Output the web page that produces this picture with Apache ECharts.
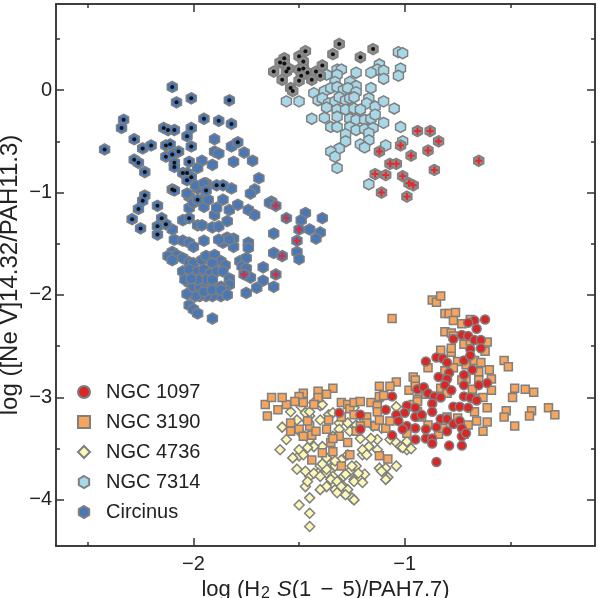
<!DOCTYPE html>
<html><head><meta charset="utf-8">
<script src="https://cdn.jsdelivr.net/npm/echarts@6/dist/echarts.min.js"></script>
<style>html,body{margin:0;padding:0;background:#fff}#c{width:598px;height:598px}</style>
</head><body><div id="c"></div>
<script>
const seriesNames = ['NGC 1097', 'NGC 3190', 'NGC 4736', 'NGC 7314', 'Circinus'];
const xTickLabels = [-2, -1];
const xMinorTicks = [-2.5, -1.5, -0.5];
const yTickLabels = [0, -1, -2, -3, -4];
const yMinorTicks = [0.5, -0.5, -1.5, -2.5, -3.5];

const ngc1097 = [[-0.62,-2.24],[-0.67,-2.25],[-0.70,-2.27],[-0.66,-2.33],[-0.73,-2.39],[-0.70,-2.40],[-0.67,-2.44],[-0.64,-2.44],[-0.77,-2.43],[-0.69,-2.53],[-0.64,-2.52],[-0.90,-2.65],[-0.85,-2.61],[-0.82,-2.62],[-0.80,-2.66],[-0.72,-2.64],[-0.69,-2.59],[-0.84,-2.80],[-0.79,-2.76],[-0.80,-2.82],[-0.72,-2.78],[-0.68,-2.73],[-0.61,-2.86],[-0.94,-2.92],[-0.91,-2.90],[-0.89,-2.96],[-0.81,-2.88],[-0.78,-2.93],[-0.72,-2.88],[-0.65,-2.88],[-0.86,-2.99],[-0.83,-3.00],[-0.72,-2.99],[-0.69,-3.00],[-0.66,-3.03],[-0.99,-3.08],[-0.95,-3.10],[-0.87,-3.06],[-0.87,-3.14],[-0.77,-3.09],[-0.74,-3.09],[-0.70,-3.10],[-1.00,-3.15],[-0.95,-3.19],[-0.92,-3.17],[-0.83,-3.21],[-0.80,-3.21],[-0.77,-3.26],[-0.74,-3.23],[-0.99,-3.28],[-0.95,-3.30],[-0.90,-3.31],[-0.85,-3.29],[-0.80,-3.33],[-0.73,-3.30],[-0.90,-3.40],[-0.87,-3.40],[-0.87,-3.45],[-0.79,-3.47],[-0.73,-3.38],[-0.73,-3.47],[-1.31,-3.15],[-1.21,-3.17],[-1.09,-3.12],[-1.04,-3.17],[-1.03,-3.23],[-1.21,-3.31],[-1.06,-3.37],[-0.95,-3.41],[-0.71,-3.35],[-0.85,-3.63],[-1.06,-2.99],[-1.01,-3.31]];

const ngc3190 = [[-0.87,-2.05],[-0.85,-2.07],[-0.83,-2.01],[-0.81,-2.18],[-0.79,-2.18],[-0.76,-2.17],[-0.77,-2.25],[-0.73,-2.28],[-0.69,-2.24],[-0.81,-2.36],[-0.78,-2.37],[-0.77,-2.40],[-0.72,-2.48],[-0.69,-2.45],[-0.61,-2.46],[-0.62,-2.55],[-0.83,-2.54],[-0.78,-2.56],[-0.78,-2.52],[-0.89,-2.71],[-0.75,-2.65],[-0.71,-2.68],[-0.67,-2.64],[-0.64,-2.66],[-0.53,-2.64],[-0.51,-2.70],[-0.60,-2.73],[-0.65,-2.75],[-0.81,-2.74],[-0.77,-2.71],[-0.96,-2.80],[-0.95,-2.83],[-0.71,-2.82],[-0.73,-2.83],[-0.65,-2.83],[-0.59,-2.82],[-0.59,-2.93],[-0.48,-2.91],[-0.43,-2.92],[-0.49,-3.00],[-0.98,-2.93],[-0.95,-2.89],[-0.93,-2.97],[-0.90,-2.97],[-0.86,-2.99],[-0.83,-2.91],[-0.80,-2.96],[-0.68,-2.92],[-0.67,-3.01],[-0.63,-3.00],[-0.61,-3.10],[-0.98,-3.09],[-0.94,-3.14],[-0.52,-3.13],[-0.53,-3.19],[-0.48,-3.28],[-0.40,-3.13],[-0.41,-3.18],[-0.67,-3.14],[-0.66,-3.23],[-0.61,-3.24],[-0.63,-3.33],[-0.80,-3.19],[-0.75,-3.20],[-0.89,-3.27],[-0.84,-3.36],[-0.82,-3.30],[-0.92,-3.19],[-0.70,-3.27],[-0.72,-3.36],[-1.06,-2.23],[-1.04,-2.85],[-1.07,-2.89],[-1.12,-2.89],[-0.94,-3.02],[-0.32,-3.10],[-0.29,-3.17],[-0.39,-2.95],[-1.34,-2.91],[-1.37,-2.97],[-1.41,-2.94],[-1.41,-3.00],[-1.48,-2.96],[-1.50,-2.99],[-1.52,-3.04],[-1.56,-3.07],[-1.48,-3.05],[-1.30,-3.05],[-1.27,-3.07],[-1.16,-3.05],[-1.13,-3.08],[-1.12,-2.99],[-1.10,-2.98],[-0.96,-3.07],[-1.43,-3.07],[-1.26,-3.11],[-1.24,-3.05],[-1.21,-3.04],[-1.13,-3.14],[-1.18,-3.19],[-1.54,-3.25],[-1.54,-3.33],[-1.50,-3.31],[-1.45,-3.28],[-1.36,-3.22],[-1.44,-3.37],[-1.35,-3.44],[-1.39,-3.54],[-1.34,-3.53],[-1.31,-3.38],[-1.27,-3.44],[-1.23,-3.33],[-1.18,-3.25],[-1.21,-3.28],[-1.14,-3.28],[-1.09,-3.30],[-1.12,-3.57],[-1.08,-3.60],[-1.44,-3.61],[-1.30,-3.67],[-1.46,-3.23],[-1.42,-3.33],[-1.37,-3.31],[-1.34,-3.40],[-1.30,-3.19],[-1.24,-3.17],[-1.12,-3.22],[-1.07,-3.23],[-0.94,-3.04],[-0.99,-3.35],[-1.26,-3.56],[-1.48,-3.38],[-1.66,-3.07],[-1.63,-3.00],[-1.60,-3.12],[-1.65,-3.18],[-1.58,-3.00]];

const ngc4736 = [[-1.49,-3.09],[-1.45,-3.18],[-1.40,-3.22],[-1.36,-3.17],[-1.34,-3.15],[-1.31,-3.25],[-1.27,-3.25],[-1.23,-3.27],[-1.19,-3.22],[-1.15,-3.28],[-1.11,-3.30],[-1.07,-3.41],[-1.04,-3.44],[-1.13,-3.41],[-1.17,-3.48],[-1.20,-3.56],[-1.23,-3.67],[-1.26,-3.72],[-1.29,-3.77],[-1.24,-3.80],[-1.21,-3.80],[-1.19,-3.75],[-1.12,-3.69],[-1.09,-3.69],[-1.08,-3.78],[-1.04,-3.67],[-0.99,-3.51],[-1.02,-3.48],[-0.99,-3.43],[-1.39,-3.48],[-1.43,-3.48],[-1.46,-3.49],[-1.50,-3.57],[-1.36,-3.61],[-1.33,-3.67],[-1.40,-3.67],[-1.45,-3.77],[-1.47,-3.87],[-1.45,-4.13],[-1.45,-4.26],[-1.41,-3.74],[-1.37,-3.74],[-1.34,-3.77],[-1.29,-3.87],[-1.25,-3.98],[-1.29,-3.93],[-1.33,-3.90],[-1.37,-3.87],[-1.40,-3.90],[-1.47,-3.15],[-1.45,-3.14],[-1.40,-3.08],[-1.46,-3.23],[-1.49,-3.35],[-1.45,-3.41],[-1.50,-3.51],[-1.48,-3.56],[-1.51,-3.70],[-1.47,-3.72],[-1.43,-3.74],[-1.46,-3.82],[-1.40,-3.77],[-1.37,-3.70],[-1.35,-3.80],[-1.32,-3.82],[-1.30,-3.87],[-1.27,-3.90],[-1.24,-3.82],[-1.22,-3.74],[-1.28,-3.75],[-1.25,-3.67],[-1.30,-3.61],[-1.33,-3.62],[-1.37,-3.59],[-1.39,-3.65],[-1.34,-3.38],[-1.31,-3.31],[-1.26,-3.33],[-1.21,-3.40],[-1.16,-3.40],[-1.13,-3.51],[-1.20,-3.51],[-1.18,-3.56],[-1.27,-3.56],[-1.24,-4.00],[-1.32,-3.93],[-1.28,-3.95],[-1.20,-3.83],[-1.11,-3.72],[-1.09,-3.80],[-1.01,-3.49],[-0.97,-3.50],[-1.50,-4.05],[-1.45,-3.98],[-1.39,-3.07],[-1.43,-3.05],[-1.23,-3.05],[-1.24,-3.10],[-1.12,-3.02],[-1.04,-3.09],[-1.58,-3.29],[-1.56,-3.41],[-1.53,-3.59],[-1.59,-3.51],[-1.54,-3.14],[-1.51,-3.22]];

const ngc7314 = [[-1.03,0.37],[-1.01,0.36],[-1.12,0.25],[-1.13,0.20],[-1.10,0.19],[-1.16,0.17],[-1.02,0.21],[-1.03,0.14],[-1.10,0.11],[-1.23,0.17],[-1.32,0.20],[-1.30,0.20],[-1.32,0.15],[-1.37,0.15],[-1.33,0.08],[-1.26,0.08],[-1.23,0.04],[-1.16,0.02],[-1.43,-0.03],[-1.38,-0.01],[-1.35,0.02],[-1.32,0.03],[-1.29,0.00],[-1.27,0.02],[-1.23,-0.02],[-1.56,-0.11],[-1.50,-0.11],[-1.41,-0.10],[-1.39,-0.08],[-1.36,-0.13],[-1.33,-0.11],[-1.31,-0.07],[-1.28,-0.10],[-1.26,-0.08],[-1.24,-0.07],[-1.17,-0.08],[-1.18,-0.13],[-1.14,-0.16],[-1.10,-0.11],[-1.05,-0.18],[-1.37,-0.17],[-1.32,-0.19],[-1.28,-0.19],[-1.24,-0.18],[-1.21,-0.19],[-1.44,-0.28],[-1.38,-0.27],[-1.32,-0.26],[-1.26,-0.28],[-1.23,-0.29],[-1.19,-0.29],[-1.16,-0.28],[-1.14,-0.24],[-1.10,-0.32],[-1.35,-0.36],[-1.32,-0.36],[-1.26,-0.36],[-1.23,-0.39],[-1.19,-0.38],[-1.15,-0.37],[-1.17,-0.42],[-1.02,-0.36],[-1.28,-0.43],[-1.17,-0.49],[-1.28,-0.50],[-1.01,-0.50],[-1.21,-0.53],[-1.19,-0.56],[-1.31,-0.57],[-1.35,-0.60],[-1.33,-0.65],[-1.32,-0.76],[-1.09,-0.54],[-1.17,-0.92]];
const ngc7314Dot = [[-1.31,0.45],[-1.15,0.40],[-1.34,0.35],[-1.21,0.32],[-1.47,0.38],[-1.57,0.31],[-1.59,0.27],[-1.57,0.26],[-1.50,0.33],[-1.48,0.28],[-1.50,0.20],[-1.48,0.21],[-1.62,0.18],[-1.56,0.18],[-1.55,0.21],[-1.46,0.17],[-1.49,0.14],[-1.42,0.18],[-1.39,0.24],[-1.40,0.14],[-1.44,0.10],[-1.50,0.09],[-1.58,0.10],[-1.54,0.02],[-1.53,-0.01]];
const ngc7314Plus = [[-0.94,-0.40],[-0.88,-0.40],[-0.84,-0.50],[-1.02,-0.54],[-1.12,-0.60],[-0.97,-0.64],[-0.89,-0.59],[-1.07,-0.72],[-1.04,-0.72],[-0.86,-0.78],[-1.14,-0.82],[-1.09,-0.83],[-1.01,-0.84],[-0.98,-0.91],[-0.96,-0.93],[-1.11,-1.00],[-0.99,-1.04],[-0.65,-0.69]];

const circinus = [[-1.90,-0.48],[-1.82,-0.55],[-1.90,-0.60],[-1.88,-0.62],[-1.76,-0.61],[-1.96,-0.69],[-1.91,-0.73],[-1.81,-0.70],[-1.72,-0.69],[-1.98,-0.76],[-1.69,-0.86],[-1.98,-0.96],[-1.94,-0.91],[-1.82,-0.96],[-1.71,-0.97],[-1.73,-1.01],[-1.63,-1.09],[-2.02,-1.04],[-2.03,-1.01],[-2.02,-1.15],[-2.00,-1.10],[-1.96,-1.07],[-1.95,-1.14],[-1.93,-1.07],[-1.90,-1.22],[-1.89,-1.15],[-1.86,-1.07],[-1.83,-1.17],[-1.79,-1.12],[-1.74,-1.17],[-1.71,-1.22],[-1.64,-1.10],[-1.91,-1.34],[-1.88,-1.33],[-1.84,-1.28],[-1.98,-1.32],[-1.96,-1.32],[-2.05,-1.27],[-2.10,-1.36],[-1.84,-1.44],[-1.81,-1.45],[-1.86,-1.49],[-1.81,-1.53],[-1.74,-1.49],[-1.74,-1.54],[-1.62,-1.40],[-1.62,-1.59],[-1.47,-1.20],[-1.49,-1.27],[-1.39,-1.25],[-1.45,-1.36],[-1.40,-1.39],[-1.42,-1.45],[-1.51,-1.58],[-1.50,-1.65],[-1.95,-1.47],[-2.09,-1.46],[-2.05,-1.47],[-2.02,-1.49],[-2.00,-1.53],[-1.88,-1.46],[-1.83,-1.46],[-2.10,-1.58],[-2.08,-1.61],[-2.12,-1.62],[-2.10,-1.66],[-2.05,-1.64],[-2.02,-1.68],[-2.00,-1.69],[-1.96,-1.66],[-1.94,-1.62],[-1.90,-1.61],[-1.87,-1.67],[-1.85,-1.71],[-1.91,-1.69],[-1.78,-1.67],[-1.75,-1.64],[-1.77,-1.72],[-1.75,-1.74],[-1.67,-1.73],[-1.73,-1.83],[-1.67,-1.86],[-1.70,-1.93],[-1.62,-1.92],[-1.75,-1.98],[-2.05,-1.77],[-2.02,-1.75],[-1.98,-1.77],[-1.95,-1.75],[-1.92,-1.79],[-1.89,-1.77],[-1.86,-1.77],[-1.83,-1.84],[-1.83,-1.90],[-1.85,-1.95],[-1.87,-2.01],[-1.91,-2.01],[-1.94,-2.01],[-1.97,-2.01],[-1.99,-2.01],[-2.03,-1.99],[-2.02,-2.10],[-2.00,-2.14],[-1.98,-2.18],[-2.02,-1.88],[-2.00,-1.92],[-1.97,-1.92],[-1.94,-1.92],[-1.91,-1.90],[-1.87,-1.92],[-2.04,-1.85],[-1.94,-1.85],[-1.91,-1.85],[-1.98,-1.85],[-2.01,-1.84],[-1.95,-1.97],[-1.91,-1.95],[-1.87,-1.95],[-1.84,-2.00],[-1.91,-2.23],[-1.99,-0.93],[-1.95,-0.91]];
const circinusDot = [[-2.10,0.03],[-2.08,-0.12],[-2.01,-0.08],[-2.33,-0.29],[-2.34,-0.37],[-2.42,-0.58],[-2.28,-0.48],[-2.24,-0.57],[-2.20,-0.54],[-2.14,-0.37],[-2.12,-0.39],[-2.09,-0.39],[-2.01,-0.37],[-2.03,-0.45],[-2.13,-0.54],[-2.11,-0.53],[-2.07,-0.60],[-2.01,-0.55],[-2.13,-0.65],[-2.10,-0.63],[-2.09,-0.71],[-2.09,-0.75],[-2.28,-0.68],[-2.26,-0.71],[-2.23,-0.80],[-2.02,-0.70],[-2.05,-0.81],[-2.03,-0.81],[-2.01,-0.85],[-2.10,-0.97],[-2.09,-0.98],[-2.23,-1.03],[-1.95,-0.28],[-1.88,-0.30],[-1.82,-0.33],[-1.83,-0.10],[-1.79,-0.51],[-2.03,-0.88],[-1.94,-0.98],[-1.89,-0.93],[-1.86,-0.93],[-1.98,-1.07],[-2.24,-1.08],[-2.26,-1.16],[-2.17,-1.13],[-2.29,-1.26],[-2.25,-1.35],[-2.15,-1.25],[-2.13,-1.31],[-2.17,-1.33],[-2.17,-1.41],[-2.02,-1.25]];
const circinusPlus = [[-1.61,-1.13],[-1.56,-1.25],[-1.50,-1.36],[-1.51,-1.47],[-1.58,-1.62],[-1.76,-1.80],[-1.61,-1.80]];

const HEX = 'path://M0,-1L0.866,-0.5L0.866,0.5L0,1L-0.866,0.5L-0.866,-0.5Z';
const PLUS = 'path://M-1,-0.28H-0.28V-1H0.28V-0.28H1V0.28H0.28V1H-0.28V0.28H-1Z';
const EDGE = '#7f7f7f';
const FONT = 'Liberation Sans';
const fmt = v => (v < 0 ? '\u2212' : '') + Math.abs(v);

function xAx(pos, ticks, len, labels, extra) {
  return Object.assign({
    type: 'value', position: pos, min: -2.65, max: -0.1,
    axisLine: { show: true, onZero: false, lineStyle: { color: '#333', width: 1.5 } },
    axisTick: { show: true, inside: true, length: len, customValues: ticks, lineStyle: { color: '#333', width: 1.5 } },
    axisLabel: labels ? { show: true, customValues: labels, formatter: fmt, fontSize: 20, fontFamily: FONT, color: '#222', margin: 8 } : { show: false },
    splitLine: { show: false }
  }, extra || {});
}
function yAx(pos, ticks, len, labels, extra) {
  return Object.assign({
    type: 'value', position: pos, min: -4.45, max: 0.84,
    axisLine: { show: true, onZero: false, lineStyle: { color: '#333', width: 1.5 } },
    axisTick: { show: true, inside: true, length: len, customValues: ticks, lineStyle: { color: '#333', width: 1.5 } },
    axisLabel: labels ? { show: true, customValues: labels, formatter: fmt, fontSize: 20, fontFamily: FONT, color: '#222', margin: 4 } : { show: false },
    splitLine: { show: false }
  }, extra || {});
}

const chart = echarts.init(document.getElementById('c'), null, { renderer: 'canvas' });
chart.setOption({
  backgroundColor: '#fff',
  animation: false,
  textStyle: { fontFamily: FONT },
  grid: { left: 56, right: 3, top: 4, bottom: 52, containLabel: false, outerBoundsMode: 'none' },
  legend: {
    data: seriesNames, orient: 'vertical', left: 77, top: 382, padding: 0,
    itemWidth: 12, itemHeight: 12, itemGap: 10, selectedMode: false,
    textStyle: { fontSize: 20, fontFamily: FONT, color: '#222', lineHeight: 20, padding: [0, 0, 0, 11] }
  },
  xAxis: [
    xAx('bottom', xTickLabels, 8, xTickLabels, {
      name: 'log (H{sub|2} {it|S}(1 {op|\u2212} 5)/PAH7.7)', nameLocation: 'middle', nameGap: 22,
      nameTextStyle: { fontSize: 22, fontFamily: FONT, color: '#222',
        rich: { sub: { fontSize: 16, fontFamily: FONT, color: '#222', verticalAlign: 'bottom', padding: [7, 1, 0, 1] },
                it: { fontSize: 22, fontFamily: FONT, color: '#222', fontStyle: 'italic' },
                op: { fontSize: 22, fontFamily: FONT, color: '#222', padding: [0, 3, 0, 3] } } }
    }),
    xAx('bottom', xMinorTicks, 4, null),
    xAx('top', xTickLabels, 8, null),
    xAx('top', xMinorTicks, 4, null)
  ],
  yAxis: [
    yAx('left', yTickLabels, 8, yTickLabels, {
      name: 'log ([Ne V]14.32/PAH11.3)', nameLocation: 'middle', nameGap: 34, nameMoveOverlap: false,
      nameTextStyle: { fontSize: 24, fontFamily: FONT, color: '#222' }
    }),
    yAx('left', yMinorTicks, 4, null),
    yAx('right', yTickLabels, 8, null),
    yAx('right', yMinorTicks, 4, null)
  ],
  series: [
    { name: 'NGC 4736', type: 'scatter', data: ngc4736, symbol: 'diamond', symbolSize: 10,
      itemStyle: { color: '#fbf8b8', borderColor: EDGE, borderWidth: 1.5, opacity: 1 } },
    { name: 'NGC 3190', type: 'scatter', data: ngc3190, symbol: 'rect', symbolSize: 8,
      itemStyle: { color: '#f7a55c', borderColor: EDGE, borderWidth: 1.5, opacity: 1 } },
    { name: 'NGC 1097', type: 'scatter', data: ngc1097, symbol: 'circle', symbolSize: 9,
      itemStyle: { color: '#d92626', borderColor: EDGE, borderWidth: 1.5, opacity: 1 } },
    { name: 'NGC 7314', type: 'scatter', data: ngc7314, symbol: HEX, symbolSize: [10, 11],
      itemStyle: { color: '#a8d8e8', borderColor: EDGE, borderWidth: 1.5, opacity: 1 } },
    { name: 'NGC 7314 flagged', type: 'scatter', data: ngc7314Dot.concat(ngc7314Plus), symbol: HEX, symbolSize: [10, 11],
      itemStyle: { color: '#8c8c8c', borderColor: EDGE, borderWidth: 1.5, opacity: 1 } },
    { name: 'Circinus', type: 'scatter', data: circinus.concat(circinusDot, circinusPlus), symbol: HEX, symbolSize: [10, 11],
      itemStyle: { color: '#4a78b5', borderColor: EDGE, borderWidth: 1.5, opacity: 1 } },
    { name: 'dots', type: 'scatter', data: ngc7314Dot.concat(circinusDot), symbol: 'circle', symbolSize: 4,
      itemStyle: { color: '#111', opacity: 1 }, silent: true },
    { name: 'plus', type: 'scatter', data: ngc7314Plus.concat(circinusPlus), symbol: PLUS, symbolSize: 7,
      itemStyle: { color: '#e8282c', opacity: 1 }, silent: true }
  ]
});
</script></body></html>
